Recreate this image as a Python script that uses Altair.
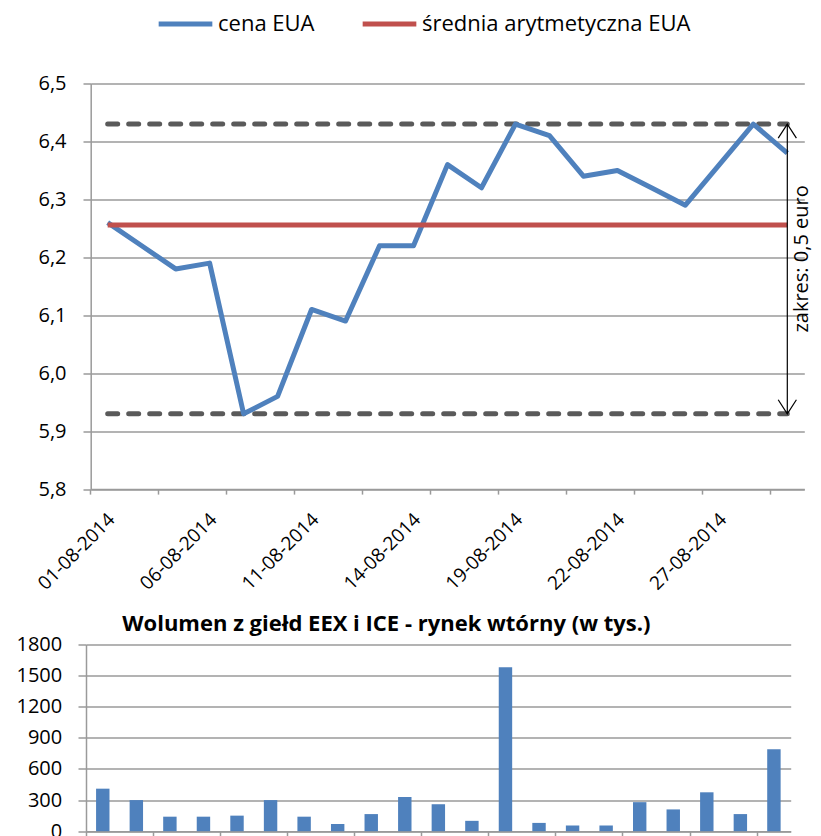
import json
import altair as alt
import pandas as pd

# ---- data ----
dates = ["01-08-2014", "04-08-2014", "05-08-2014", "06-08-2014", "07-08-2014",
         "08-08-2014", "11-08-2014", "12-08-2014", "13-08-2014", "14-08-2014",
         "15-08-2014", "18-08-2014", "19-08-2014", "20-08-2014", "21-08-2014",
         "22-08-2014", "25-08-2014", "26-08-2014", "27-08-2014", "28-08-2014",
         "29-08-2014"]
price = [6.26, 6.22, 6.18, 6.19, 5.93, 5.96, 6.11, 6.09, 6.22, 6.22, 6.36,
         6.32, 6.43, 6.41, 6.34, 6.35, 6.32, 6.29, 6.36, 6.43, 6.38]
volume = [410, 300, 140, 140, 150, 300, 140, 70, 165, 330, 260,
          100, 1580, 80, 55, 55, 280, 210, 375, 165, 790]
label_dates = ["01-08-2014", "06-08-2014", "11-08-2014", "14-08-2014",
               "19-08-2014", "22-08-2014", "27-08-2014"]
tick_dates = ["01-08-2014", "05-08-2014", "07-08-2014", "11-08-2014",
              "13-08-2014", "15-08-2014", "19-08-2014", "21-08-2014",
              "25-08-2014", "27-08-2014", "29-08-2014"]
price_ticks = [5.8, 5.9, 6.0, 6.1, 6.2, 6.3, 6.4, 6.5]
volume_ticks = [0, 300, 600, 900, 1200, 1500, 1800]
series_names = ["cena EUA", "średnia arytmetyczna EUA"]
range_label = "zakres: 0,5 euro"
volume_title = "Wolumen z giełd EEX i ICE - rynek wtórny (w tys.)"

FONT = "Open Sans"
BLUE = "#4F81BD"
RED = "#C0504D"
DASH = "#5a5a5a"
GRID = "#9a9a9a"
INK = "#000000"

price_df = pd.DataFrame({"date": dates, "price": price})
volume_df = pd.DataFrame({"date": dates, "volume": volume})

tick_test = f"indexof({json.dumps(tick_dates)}, datum.value) >= 0"
label_test = f"indexof({json.dumps(label_dates)}, datum.value) >= 0"
tick_op = {"condition": {"test": tick_test, "value": 1}, "value": 0}

x_top = alt.X(
    "date:N", sort=dates,
    scale=alt.Scale(type="band", domain=dates, range=[4.7, 718.3],
                    paddingInner=0, paddingOuter=0),
    axis=alt.Axis(title=None, bandPosition=0, grid=False,
                  domainColor=GRID, domainWidth=1.5, tickColor=GRID,
                  tickWidth=1.5, tickSize=5, tickOpacity=tick_op,
                  labelExpr=f"{label_test} ? datum.label : ''",
                  labelAngle=-45, labelAlign="right", labelBaseline="middle",
                  labelOffset=4, labelPadding=22, labelFont=FONT,
                  labelFontSize=19, labelColor=INK, labelOverlap=False),
)

price_axis = alt.Axis(title=None, values=price_ticks,
                      labelExpr="replace(format(datum.value, '.1f'), '.', ',')",
                      offset=-4.7, grid=True, gridColor=GRID, gridWidth=1.5,
                      domainColor=GRID, domainWidth=1.5, tickColor=GRID,
                      tickWidth=1.5, tickSize=7.7, labelPadding=17,
                      labelFont=FONT, labelFontSize=20, labelColor=INK)


def yq(field):
    return alt.Y(f"{field}:Q",
                 scale=alt.Scale(domain=[5.8, 6.5], nice=False, zero=False),
                 axis=price_axis)


color = alt.Color(
    "series:N",
    scale=alt.Scale(domain=series_names, range=[BLUE, RED]),
    legend=alt.Legend(orient="none", legendX=70, legendY=-89.2,
                      direction="horizontal", title=None, symbolType="stroke",
                      symbolSize=2880, symbolStrokeWidth=5, labelFont=FONT,
                      labelFontSize=22, labelColor=INK, columnPadding=37,
                      labelOffset=3, padding=0, labelLimit=400),
)

base = alt.Chart(price_df)

price_line = base.transform_calculate(
    series=f"'{series_names[0]}'"
).mark_line(strokeWidth=5, strokeJoin="round").encode(
    x=x_top, y=yq("price"), color=color)

mean_line = base.transform_joinaggregate(
    avg="mean(price)"
).transform_calculate(
    series=f"'{series_names[1]}'"
).mark_line(strokeWidth=5).encode(x=x_top, y=yq("avg"), color=color)

extremes = base.transform_joinaggregate(pmax="max(price)", pmin="min(price)")

hi_line = extremes.mark_line(color=DASH, strokeWidth=5, strokeDash=[10, 11],
                             strokeCap="round").encode(x=x_top, y=yq("pmax"))
lo_line = extremes.mark_line(color=DASH, strokeWidth=5, strokeDash=[10, 11],
                             strokeCap="round").encode(x=x_top, y=yq("pmin"))

last = extremes.transform_filter(alt.datum.date == dates[-1])

arrow = last.mark_rule(color=INK, strokeWidth=1.2).encode(
    x=x_top, y=yq("pmax"), y2="pmin:Q")
head_up = last.mark_point(shape="M-0.65,1L0,0L0.65,1", size=784, filled=False,
                          color=INK, strokeWidth=1.2, opacity=1).encode(
    x=x_top, y=yq("pmax"))
head_dn = last.mark_point(shape="M-0.65,-1L0,0L0.65,-1", size=784, filled=False,
                          color=INK, strokeWidth=1.2, opacity=1).encode(
    x=x_top, y=yq("pmin"))
range_text = last.transform_calculate(
    mid="(datum.pmax + datum.pmin) / 2"
).mark_text(angle=270, align="center", baseline="alphabetic", dx=10, dy=21,
            font=FONT, fontSize=20, color=INK).encode(
    x=x_top, y=yq("mid"), text=alt.value(range_label))

top = alt.layer(hi_line, lo_line, price_line, mean_line, arrow, head_up,
                head_dn, range_text).properties(width=718.3, height=405.6)

x_bot = alt.X(
    "date:N", sort=dates,
    scale=alt.Scale(type="band", domain=dates, paddingInner=0, paddingOuter=0),
    axis=alt.Axis(title=None, labels=False, bandPosition=0, grid=False,
                  domainColor=GRID, domainWidth=1.5, tickColor=GRID,
                  tickWidth=1.5, tickSize=8, tickOpacity=tick_op),
)
y_bot = alt.Y(
    "volume:Q", scale=alt.Scale(domain=[0, 1800], nice=False),
    axis=alt.Axis(title=None, values=volume_ticks, format="d", grid=True,
                  gridColor=GRID, gridWidth=1.5, domainColor=GRID,
                  domainWidth=1.5, tickColor=GRID, tickWidth=1.5, tickSize=8,
                  labelPadding=16.3, labelFont=FONT, labelFontSize=20,
                  labelColor=INK, minExtent=73),
)

bottom = alt.Chart(
    volume_df,
    title=alt.Title(volume_title, font=FONT, fontSize=22, fontWeight="bold",
                    color=INK, anchor="middle", frame="group", dx=-52,
                    baseline="alphabetic", offset=0, dy=18.7),
).mark_bar(color=BLUE, width=alt.RelativeBandSize(0.4)).encode(
    x=x_bot, y=y_bot).properties(width=704.7, height=186.7)

chart = alt.vconcat(top, bottom, spacing=155, bounds="flush").properties(
    padding={"left": 5, "top": -14.5, "right": 0, "bottom": 5}
).configure_view(stroke=None)

chart.save("out.html", embed_options={"renderer": "svg", "actions": False})
